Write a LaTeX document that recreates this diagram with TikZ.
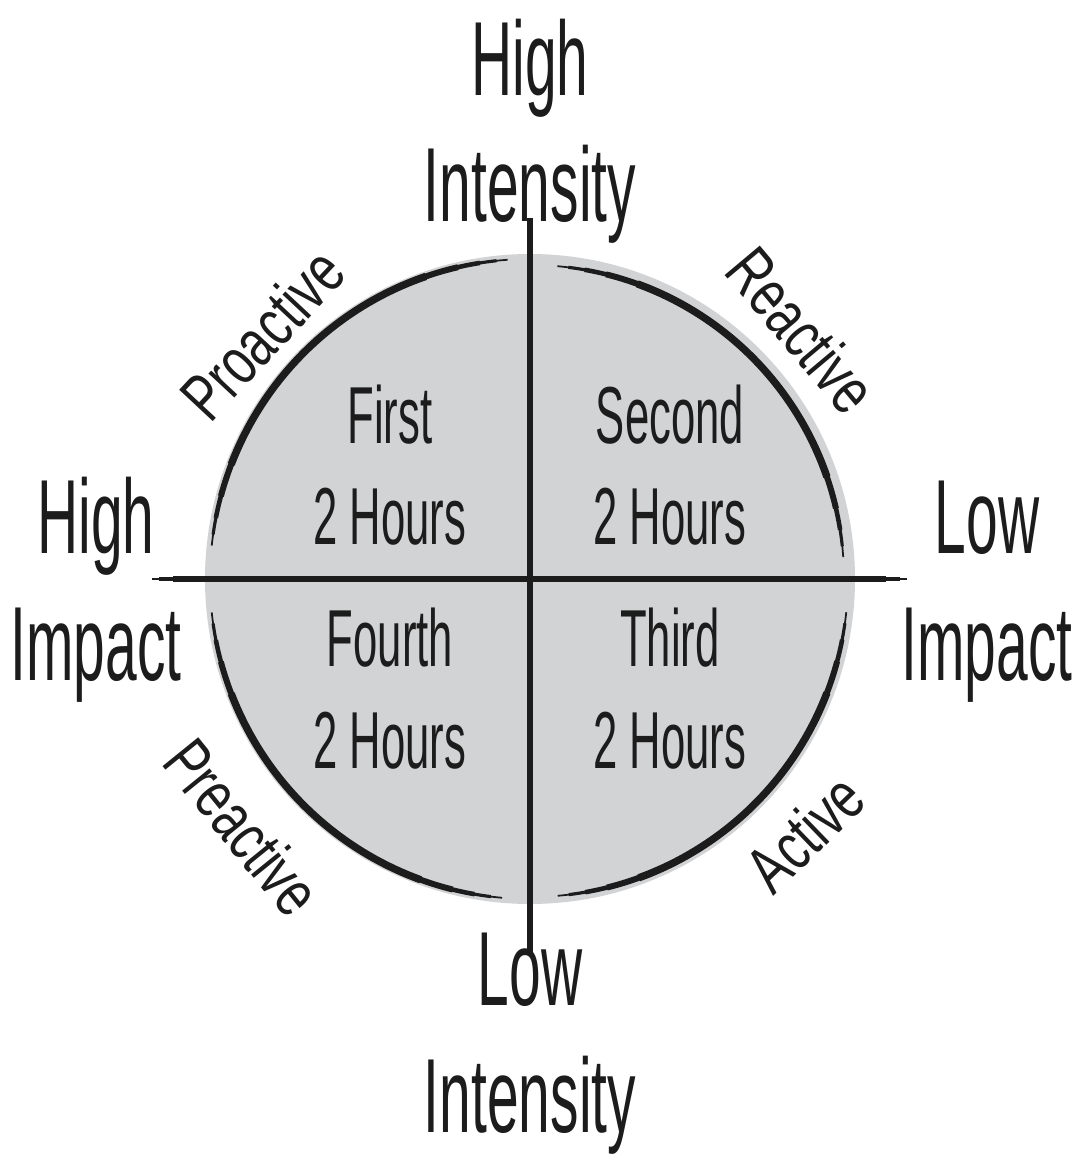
\documentclass[tikz,border=0pt]{standalone}
\usepackage{fontspec}
\setmainfont{Liberation Sans}
\newfontfamily\narrowfont[FakeStretch=0.54]{Liberation Sans}
\newfontfamily\arcfont[FakeStretch=0.73]{Liberation Sans}
\usetikzlibrary{positioning}
\definecolor{discgray}{RGB}{210,211,213}
\definecolor{ink}{RGB}{28,28,28}

\begin{document}
\begin{tikzpicture}[
    axislbl/.style={font=\narrowfont\fontsize{30}{36}\selectfont,align=center,inner sep=0pt,anchor=base,ink},
    hourlbl/.style={font=\narrowfont\fontsize{23}{29}\selectfont,align=center,inner sep=0pt,anchor=base,ink},
    arclbl/.style={font=\arcfont\fontsize{19}{22}\selectfont,inner sep=0pt,ink}]
\useasboundingbox (-5.30,-5.76) rectangle (5.50,5.79);
\fill[discgray] (0,0) circle (3.25);
% axes
\coordinate (top) at (0,3.61);
\coordinate (bot) at (0,-3.76);
\coordinate (lft) at (-3.78,0);
\coordinate (rgt) at (3.77,0);
\foreach \w/\s in {0.5/0, 1/2, 1.5/6}
  \draw[ink,line width=\w pt,shorten <=\s pt,shorten >=\s pt] (top)--(bot) (lft)--(rgt);
% rim strokes, thin at both ends
\foreach \a/\b/\r in {94/174/3.2, 4/85/3.14, 186/265/3.2, 275/354/3.18}
  \foreach \w/\d in {0.5/0, 0.9/2, 1.3/5, 1.7/9, 2.1/15}
    \draw[ink,line width=\w pt] ({\a+\d}:\r) arc[start angle=\a+\d,end angle=\b-\d,radius=\r];
\node[axislbl] (hiint) at (0,3.57) {High\\Intensity};
\node[axislbl] (loint) at (0,-5.53) {Low\\Intensity};
\node[axislbl] (hiimp) at (-4.34,-1.01) {High\\Impact};
\node[axislbl] (loimp) at (4.57,-1.01) {Low\\Impact};
\node[hourlbl] (first) at (-1.40,0.34) {First\\2 Hours};
\node[hourlbl] (second) at (1.40,0.34) {Second\\2 Hours};
\node[hourlbl] (fourth) at (-1.40,-1.89) {Fourth\\2 Hours};
\node[hourlbl] (third) at (1.40,-1.89) {Third\\2 Hours};
\node[arclbl,rotate=47] (proact) at (-2.68,2.45) {Proactive};
\node[arclbl,rotate=-50] (react) at (2.72,2.49) {Reactive};
\node[arclbl,rotate=-51] (preact) at (-2.87,-2.48) {Preactive};
\node[arclbl,rotate=44] (act) at (2.75,-2.54) {Active};
\end{tikzpicture}
\end{document}
